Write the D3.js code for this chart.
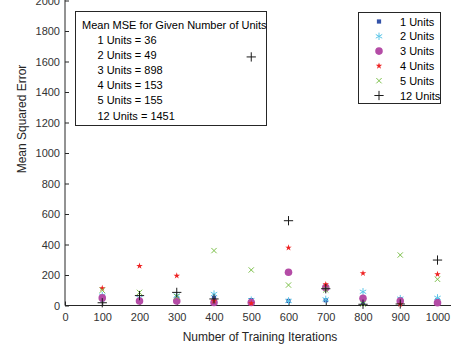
<!DOCTYPE html>
<html>
<head>
<meta charset="utf-8">
<script src="https://cdn.jsdelivr.net/npm/d3@7"></script>
<style>
  body { margin: 0; background: #fff; }
  svg { font-family: "Liberation Sans", Arial, sans-serif; }
</style>
</head>
<body>
<svg id="chart" width="451" height="350"></svg>
<script>
// iterations on the x axis
var iterations = [100, 200, 300, 400, 500, 600, 700, 800, 900, 1000];

// mean squared error per run, one list per number of hidden units
var units1  = [40, 35, 45, 50, 35, 30, 35, 20, 40, 35];
var units2  = [65, 50, 65, 75, 35, 30, 40, 90, 45, 50];
var units3  = [50, 30, 30, 20, 20, 218, 117, 47, 30, 18];
var units4  = [113, 259, 195, 30, 14, 379, 139, 211, 8, 205];
var units5  = [100, 86, 58, 360, 233, 134, 102, 10, 331, 172];
var units12 = [18, 65, 86, 43, 1630, 556, 110, 8, 10, 298];

var seriesNames = ["1 Units", "2 Units", "3 Units", "4 Units", "5 Units", "12 Units"];
var meanLines = ["1 Units = 36", "2 Units = 49", "3 Units = 898", "4 Units = 153", "5 Units = 155", "12 Units = 1451"];

var xTicks = [0, 100, 200, 300, 400, 500, 600, 700, 800, 900, 1000];
var yTicks = [0, 200, 400, 600, 800, 1000, 1200, 1400, 1600, 1800, 2000];

var series = [
  {name: seriesNames[0], values: units1,  type: d3.symbolSquare,   size: 18, fill: "#3352a8", stroke: null},
  {name: seriesNames[1], values: units2,  type: d3.symbolAsterisk, size: 38, fill: "none", stroke: "#5cc6e8"},
  {name: seriesNames[2], values: units3,  type: d3.symbolCircle,   size: 45, fill: "#b44ca6", stroke: null},
  {name: seriesNames[3], values: units4,  type: d3.symbolStar,     size: 13, fill: "#ee2222", stroke: null},
  {name: seriesNames[4], values: units5,  type: d3.symbolTimes,    size: 20, fill: "none", stroke: "#7cc04a"},
  {name: seriesNames[5], values: units12, type: d3.symbolPlus,     size: 30, fill: "none", stroke: "#1a1a1a"}
];

var svg = d3.select("#chart");
var axisColor = "#262626";

var x = d3.scaleLinear().domain([0, 1000]).range([65, 437.5]);
var y = d3.scaleLinear().domain([0, 2000]).range([305.5, 0.5]);

// x axis, ticks point inward like matlab
var gx = svg.append("g")
    .attr("transform", "translate(0," + y(0) + ")")
    .call(d3.axisBottom(x).tickValues(xTicks).tickFormat(d3.format("d"))
      .tickSizeInner(-4).tickSizeOuter(0).tickPadding(8));
gx.select(".domain").remove();
gx.append("line").attr("x1", 65).attr("x2", 451).attr("y1", 0).attr("y2", 0)
    .attr("stroke", axisColor);

var gy = svg.append("g")
    .attr("transform", "translate(" + x(0) + ",0)")
    .call(d3.axisLeft(y).tickValues(yTicks).tickFormat(d3.format("d"))
      .tickSizeInner(-4).tickSizeOuter(0).tickPadding(5));
gy.select(".domain").remove();
gy.append("line").attr("x1", 0).attr("x2", 0).attr("y1", y(0)).attr("y2", 0)
    .attr("stroke", axisColor);

svg.selectAll(".tick line").attr("stroke", axisColor);
svg.selectAll(".tick text").attr("fill", "#333").style("font-size", "11px")
    .style("font-family", "Liberation Sans, Arial, sans-serif");

// axis titles
svg.append("text")
    .attr("x", 260).attr("y", 341)
    .attr("text-anchor", "middle")
    .attr("fill", axisColor)
    .style("font-size", "12px")
    .text("Number of Training Iterations");

svg.append("text")
    .attr("transform", "translate(26,119)rotate(-90)")
    .attr("text-anchor", "middle")
    .attr("fill", axisColor)
    .style("font-size", "12px")
    .text("Mean Squared Error");

// annotation box with the means (drawn under the points)
var note = svg.append("g");
note.append("rect")
    .attr("x", 75.5).attr("y", 11.5).attr("width", 191).attr("height", 114)
    .attr("fill", "#fff").attr("stroke", axisColor);
note.append("text")
    .attr("x", 82).attr("y", 29)
    .attr("fill", "#000").style("font-size", "11px")
    .text("Mean MSE for Given Number of Units");
note.selectAll(".mean")
  .data(meanLines)
  .enter().append("text")
    .attr("class", "mean")
    .attr("x", 97.5)
    .attr("y", function(d, i) { return 44 + i * 15.1; })
    .attr("fill", "#000").style("font-size", "11px")
    .text(function(d) { return d; });

// points
series.forEach(function(s) {
  var sym = d3.symbol().type(s.type).size(s.size);
  svg.append("g").selectAll("path")
    .data(s.values)
    .enter().append("path")
      .attr("transform", function(d, i) { return "translate(" + x(iterations[i]) + "," + y(d) + ")"; })
      .attr("d", sym)
      .attr("fill", s.fill)
      .attr("stroke", s.stroke ? s.stroke : "none")
      .attr("stroke-width", s.stroke ? 1 : 0);
});

// legend
var legend = svg.append("g");
legend.append("rect")
    .attr("x", 358.5).attr("y", 12.5).attr("width", 82).attr("height", 91)
    .attr("fill", "#fff").attr("stroke", axisColor);
series.forEach(function(s, i) {
  var ly = 21.5 + i * 14.8;
  legend.append("path")
      .attr("transform", "translate(379," + ly + ")")
      .attr("d", d3.symbol().type(s.type).size(s.size))
      .attr("fill", s.fill)
      .attr("stroke", s.stroke ? s.stroke : "none")
      .attr("stroke-width", s.stroke ? 1 : 0);
  legend.append("text")
      .attr("x", 400).attr("y", ly + 4)
      .attr("fill", "#000").style("font-size", "11px")
      .text(s.name);
});
</script>
</body>
</html>
